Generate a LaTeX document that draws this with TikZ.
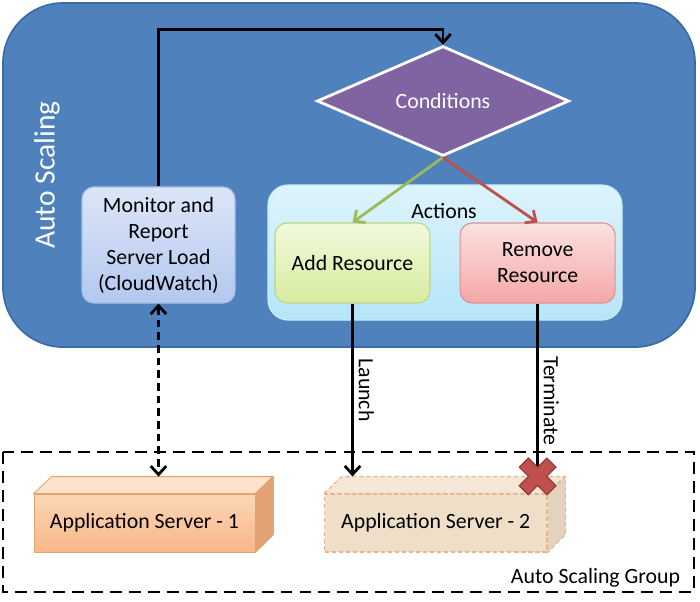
\documentclass[tikz,border=0pt]{standalone}
\usepackage{fontspec}
\setmainfont{Carlito}
\usetikzlibrary{shapes.geometric,arrows.meta,positioning}

\definecolor{asblue}{HTML}{4F81BD}
\definecolor{asblueline}{HTML}{3A6BA5}
\definecolor{montop}{HTML}{DCE6F8}
\definecolor{monbot}{HTML}{B3C8EF}
\definecolor{monline}{HTML}{A9BFE8}
\definecolor{acttop}{HTML}{DDF4FD}
\definecolor{actbot}{HTML}{B5E5F8}
\definecolor{actline}{HTML}{C8EEFB}
\definecolor{addtop}{HTML}{F2F9DC}
\definecolor{addbot}{HTML}{D6EC9E}
\definecolor{addline}{HTML}{B9D68A}
\definecolor{remtop}{HTML}{FCE2E2}
\definecolor{rembot}{HTML}{F4A6A6}
\definecolor{remline}{HTML}{E39090}
\definecolor{condpurple}{HTML}{8064A2}
\definecolor{addgreen}{HTML}{9BBB59}
\definecolor{remred}{HTML}{C0504D}
\definecolor{xline}{HTML}{8E3A38}
\definecolor{srvfronttop}{HTML}{FCD6B6}
\definecolor{srvfrontbot}{HTML}{F9B789}
\definecolor{srvtop}{HTML}{FDE3CB}
\definecolor{srvside}{HTML}{E3A273}
\definecolor{srvline}{HTML}{E6A26E}
\definecolor{srvtwofront}{HTML}{EFDEC8}
\definecolor{srvtwotopc}{HTML}{F4E7D7}
\definecolor{srvtwoside}{HTML}{E2D2BE}
\definecolor{srvtwoline}{HTML}{E5B68E}

\begin{document}
\begin{tikzpicture}[
    >={Straight Barb[length=6pt,width=11pt]},
    every node/.style={font=\fontsize{15.5}{18.5}\selectfont},
    rbox/.style={rounded corners=0.3cm, align=center, inner sep=0pt, line width=0.8pt},
    flow/.style={->, line width=2pt},
    srvface/.style={draw=srvline, line width=0.6pt},
    srvtwoface/.style={draw=srvtwoline, line width=0.8pt, dash pattern=on 3pt off 2pt},
  ]
  \useasboundingbox (0,0) rectangle (17.5,-15.025);
  % auto scaling area
  \draw[fill=asblue, draw=asblueline, line width=1.2pt, rounded corners=1.5cm] (0.075,-0.075) rectangle (17.375,-8.675);
  \node[rotate=90, text=white, font=\fontsize{21}{25}\selectfont] (astitle) at (1.175,-4.375) {Auto Scaling};
  \node[rbox, draw=monline, top color=montop, bottom color=monbot, minimum width=3.825cm, minimum height=2.9cm] (monitor) at (3.9625,-6.125) {Monitor and\\Report\\Server Load\\(CloudWatch)};
  \node[diamond, fill=condpurple, draw=white, line width=2pt, minimum width=6.3cm, minimum height=2.45cm, inner sep=0pt, text=white] (cond) at (11.075,-2.525) {Conditions};
  \node[rbox, rounded corners=0.5cm, draw=actline, top color=acttop, bottom color=actbot, minimum width=8.85cm, minimum height=3.375cm] (actions) at (11.125,-6.3125) {};
  \node (actlabel) at (11.1,-5.275) {Actions};
  \node[rbox, draw=addline, top color=addtop, bottom color=addbot, minimum width=3.875cm, minimum height=2cm] (add) at (8.8125,-6.575) {Add Resource};
  \node[rbox, draw=remline, top color=remtop, bottom color=rembot, minimum width=3.875cm, minimum height=2cm, right=0.725cm of add] (remove) {Remove\\Resource};
  \draw[flow] (monitor.north) -- ++(0,3.925) -| (cond.north);
  \draw[flow, addgreen] (cond.south) -- (add.north);
  \draw[flow, remred] (cond.south) -- (remove.north);
  % auto scaling group
  \draw[line width=2pt, dash pattern=on 8.5pt off 5pt] (0.075,-11.3) rectangle (17.35,-14.8);
  \node[anchor=base east] (grouplabel) at (17.125,-14.575) {Auto Scaling Group};
  % servers
  \node[srvface, top color=srvfronttop, bottom color=srvfrontbot, minimum width=5.525cm, minimum height=1.45cm, inner sep=0pt] (srvone) at (3.6125,-13.075) {Application Server - 1};
  \draw[srvface, fill=srvtop] (srvone.north west) -- ++(0.45,0.425) -- ++(5.525,0) -- (srvone.north east) -- cycle;
  \draw[srvface, fill=srvside] (srvone.north east) -- ++(0.45,0.425) -- ++(0,-1.45) -- (srvone.south east) -- cycle;
  \node[srvtwoface, fill=srvtwofront, minimum width=5.5625cm, minimum height=1.45cm, inner sep=0pt] (srvtwo) at (10.89375,-13.075) {Application Server - 2};
  \draw[srvtwoface, fill=srvtwotopc] (srvtwo.north west) -- ++(0.45,0.425) -- ++(5.5625,0) -- (srvtwo.north east) -- cycle;
  \draw[srvtwoface, fill=srvtwoside] (srvtwo.north east) -- ++(0.45,0.425) -- ++(0,-1.45) -- (srvtwo.south east) -- cycle;
  \coordinate (srvonetop) at ([shift={(0.45,0.425)}]srvone.north);
  \coordinate (srvtwotop) at ([shift={(0.45,0.425)}]srvtwo.north);
  \coordinate (xmark) at (remove.south |- srvtwotop);
  % connectors to servers
  \draw[<->, line width=2pt, dash pattern=on 5.5pt off 3.5pt] (monitor.south) -- (monitor.south |- srvonetop);
  \draw[flow] (add.south) -- (add.south |- srvtwotop) node[midway, rotate=-90, anchor=south] {Launch};
  \draw[line width=2pt] (remove.south) -- (xmark) node[pos=0.563, rotate=-90, anchor=south] {Terminate};
  \begin{scope}[shift={(xmark)}, rotate=45]
    \draw[fill=remred, draw=xline, line width=0.8pt] (0.16,0.16) -- (0.16,0.49) -- (-0.16,0.49) -- (-0.16,0.16) -- (-0.49,0.16) -- (-0.49,-0.16) -- (-0.16,-0.16) -- (-0.16,-0.49) -- (0.16,-0.49) -- (0.16,-0.16) -- (0.49,-0.16) -- (0.49,0.16) -- cycle;
  \end{scope}
\end{tikzpicture}
\end{document}
